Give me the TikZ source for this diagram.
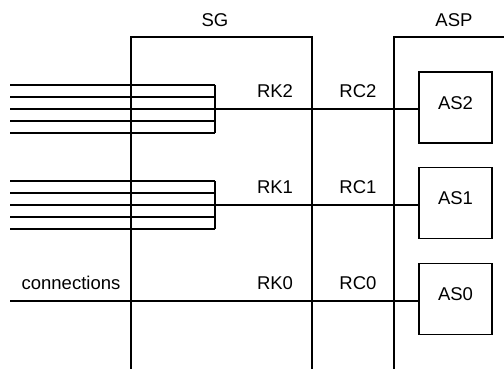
\documentclass[tikz,border=0pt]{standalone}
\usepackage{fontspec}
\setmainfont{Liberation Sans}
\begin{document}
\begin{tikzpicture}[x=1pt,y=-1pt,
  wire/.style={line width=1.3pt},
  lbl/.style={font=\fontsize{18.5}{21}\selectfont, inner sep=0pt, anchor=center},
  asbox/.style={draw, line width=1.3pt, minimum width=73pt, minimum height=71pt, inner sep=0pt,
    font=\fontsize{18.5}{21}\selectfont, text depth=9pt}]
\useasboundingbox (0,0) rectangle (504,369);
% frames
\coordinate (sgbl) at (131,369);
\coordinate (sgtl) at (131,37);
\coordinate (sgtr) at (312,37);
\coordinate (sgbr) at (312,369);
\draw[wire] (sgbl) -- (sgtl) -- (sgtr) -- (sgbr);
\coordinate (aspbl) at (394,369);
\coordinate (asptl) at (394,37);
\coordinate (asptr) at (504,37);
\draw[wire] (aspbl) -- (asptl) -- (asptr);
\node[lbl] (sg) at (215,20) {SG};
\node[lbl] (asp) at (454,20) {ASP};
% AS boxes
\node[asbox] (as2) at (455.5,107.5) {AS2};
\node[asbox] (as1) at (455.5,203) {AS1};
\node[asbox] (as0) at (455.5,299) {AS0};
% bundle 2
\foreach \y [count=\i] in {85,97,109,121,133}{
  \coordinate (b2l\i) at (10,\y);
  \coordinate (b2r\i) at (215,\y);
  \draw[wire] (b2l\i) -- (b2r\i);
}
\draw[wire] (b2r1) -- (b2r5);
\draw[wire] (b2r3) -- (b2r3 -| as2.west);
% bundle 1
\foreach \y [count=\i] in {181,193,205,217,229}{
  \coordinate (b1l\i) at (10,\y);
  \coordinate (b1r\i) at (215,\y);
  \draw[wire] (b1l\i) -- (b1r\i);
}
\draw[wire] (b1r1) -- (b1r5);
\draw[wire] (b1r3) -- (b1r3 -| as1.west);
% single connection
\coordinate (c0) at (10,301);
\draw[wire] (c0) -- (c0 -| as0.west);
% labels
\node[lbl] (conn) at (71,283) {connections};
\node[lbl] (rk2) at (275,91) {RK2};
\node[lbl] (rc2) at (358,91) {RC2};
\node[lbl] (rk1) at (275,187) {RK1};
\node[lbl] (rc1) at (358,187) {RC1};
\node[lbl] (rk0) at (275,283) {RK0};
\node[lbl] (rc0) at (358,283) {RC0};
\end{tikzpicture}
\end{document}
